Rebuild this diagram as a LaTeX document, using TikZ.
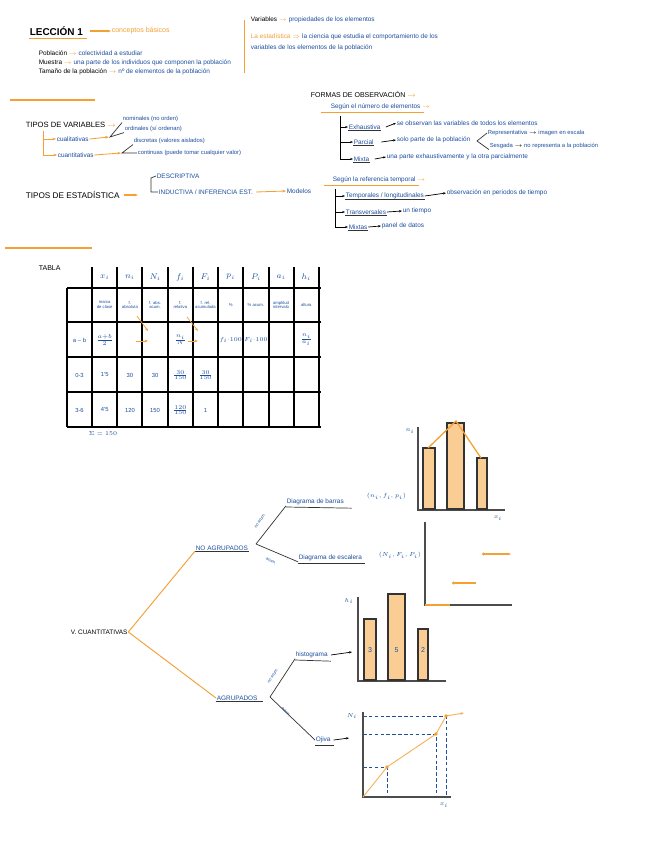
\documentclass[tikz,border=0pt]{standalone}
\usepackage{fontspec}
\setmainfont{Liberation Sans}
\usetikzlibrary{arrows.meta,positioning,calc}
\definecolor{ink}{HTML}{1D4F9E}
\definecolor{marker}{HTML}{F5A033}
\definecolor{barfill}{HTML}{F9CD94}
\newcommand{\oto}{\textcolor{marker}{$\rightarrow$}}
\newcommand{\kto}{\textcolor{black}{$\rightarrow$}}

\begin{document}
\begin{tikzpicture}[
    x=0.03cm, y=-0.03cm,
    txt/.style={anchor=west, inner sep=0.5pt, text=ink, font=\fontsize{5.5}{6}\selectfont},
    otxt/.style={txt, text=marker},
    head/.style={anchor=west, inner sep=0.5pt, text=black, font=\fontsize{6}{7}\selectfont},
    cell/.style={inner sep=0pt, text=ink, align=center, font=\fontsize{3.6}{4}\selectfont},
    tick/.style={inner sep=0.5pt, text=ink, font=\fontsize{4.5}{5}\selectfont},
    oarrow/.style={-{Stealth[length=3pt]}, marker, line width=0.9pt},
    karrow/.style={-{Stealth[length=2.5pt]}, black, semithick},
    kline/.style={black!80, semithick},
    oline/.style={marker, line width=0.8pt},
    tline/.style={black, line width=1.1pt},
    axis/.style={black!70, line width=1pt},
    bar/.style={draw=black!80, fill=barfill, line width=0.9pt},
    guide/.style={ink, densely dashed, semithick}
  ]
    \path[use as bounding box, fill=white] (0,0) rectangle (656,848);

    % cabecera
    \node[head, font=\bfseries\fontsize{8.5}{9}\selectfont] (leccion) at (29,31) {LECCIÓN 1};
    \node[otxt, font=\fontsize{6}{7}\selectfont] (basicos) at (111,31) {conceptos básicos};
    \draw[oarrow, line width=1.3pt] ([xshift=5pt]leccion.east) -- (basicos.west);
    \draw[oline, line width=1.4pt] ([yshift=-2pt]leccion.south west) -- ([xshift=3pt, yshift=-2pt]leccion.south east);

    \node[txt] (pobla) at (38,53) {\textcolor{black}{Población} \oto\ colectividad a estudiar};
    \node[txt] (muest) at (38,63) {\textcolor{black}{Muestra} \oto\ una parte de los individuos que componen la población};
    \node[txt] (taman) at (38,72) {\textcolor{black}{Tamaño de la población} \oto\ nº de elementos de la población};

    \draw[oline] (244,20) -- (244,73);
    \node[txt] (varia) at (250,20) {\textcolor{black}{Variables} \oto\ propiedades de los elementos};
    \node[txt] (estad) at (250,37) {\textcolor{marker}{La estadística $\Rightarrow$} la ciencia que estudia el comportamiento de los};
    \node[txt] (estad2) at (250,48) {variables de los elementos de la población};

    \draw[oline, line width=1.2pt] (10,100) -- (95,100);
    \draw[oline, line width=1.2pt] (5,248) -- (92,248);

    % tipos de variables
    \node[head, font=\fontsize{6.5}{7}\selectfont] (tvar) at (25,125) {TIPOS DE VARIABLES \oto};
    \node[txt] (cuali) at (56,139) {cualitativas};
    \node[txt] (cuanti) at (57,155) {cuantitativas};
    \coordinate (tvarfoot) at (43,131);
    \draw[oarrow, line width=0.7pt] (tvarfoot) |- (cuali.west);
    \draw[oarrow, line width=0.7pt] (tvarfoot) |- (cuanti.west);

    \node[txt, font=\fontsize{5}{6}\selectfont] (nomin) at (122,119) {nominales (no orden)};
    \node[txt, font=\fontsize{5}{6}\selectfont] (ordin) at (124,129) {ordinales (sí ordenan)};
    \node[txt, font=\fontsize{5}{6}\selectfont] (discr) at (133,141) {discretas (valores aislados)};
    \node[txt, font=\fontsize{5}{6}\selectfont] (conti) at (137,153) {continuas (puede tomar cualquier valor)};
    \coordinate (fk1) at (110,137);
    \coordinate (fk2) at (122,153);
    \draw[oarrow, line width=0.7pt] (cuali.east) -- ([xshift=-1pt]fk1);
    \draw[oarrow, line width=0.7pt] (cuanti.east) -- ([xshift=-1pt]fk2);
    \draw[kline] (nomin.south west) -- (fk1) -- (ordin.south west);
    \draw[kline] (discr.south west) -- (fk2) -- (conti.west);

    % tipos de estadistica
    \node[head, font=\fontsize{7}{8}\selectfont] (test) at (25,195) {TIPOS DE ESTADÍSTICA};
    \node[txt, font=\fontsize{5.5}{6}\selectfont] (descr) at (156,176) {DESCRIPTIVA};
    \node[txt, font=\fontsize{5.5}{6}\selectfont] (induc) at (158,192) {INDUCTIVA / INFERENCIA EST.};
    \node[txt] (model) at (286,191) {Modelos};
    \draw[oarrow] ([xshift=3pt]test.east) -- ++(14,0);
    \draw[kline] (descr.west) -- ++(-5,2) |- (induc.west);
    \draw[oarrow, line width=0.7pt] ([xshift=2pt]induc.east) -- (model.west);

    % formas de observacion
    \node[head] (formas) at (310,94) {FORMAS DE OBSERVACIÓN \oto};
    \node[txt] (segnum) at (330,107) {Según el número de elementos \oto};
    \draw[oline] ([xshift=-8pt, yshift=-1pt]segnum.south west) -- ([xshift=-6pt, yshift=-1pt]segnum.south east);
    \coordinate (obstop) at (340,116);
    \node[txt] (exhau) at (348,127) {Exhaustiva};
    \node[txt] (exhaud) at (396,123) {se observan las variables de todos los elementos};
    \node[txt] (parci) at (353,142) {Parcial};
    \node[txt] (parcid) at (396,140) {solo parte de la población};
    \node[txt, font=\fontsize{5}{6}\selectfont] (repre) at (487,133) {Representativa \kto\ imagen en escala};
    \node[txt, font=\fontsize{5}{6}\selectfont] (sesga) at (489,146) {Sesgada \kto\ no representa a la población};
    \node[txt] (mixta) at (353,159) {Mixta};
    \node[txt] (mixtad) at (386,157) {una parte exhaustivamente y la otra parcialmente};
    \draw[karrow] (obstop) |- (exhau.west);
    \draw[karrow] (obstop) |- (parci.west);
    \draw[karrow] (obstop) |- (mixta.west);
    \draw[kline] (exhau.south west) -- (exhau.south east);
    \draw[kline] (parci.south west) -- (parci.south east);
    \draw[kline] (mixta.south west) -- (mixta.south east);
    \draw[karrow] ([xshift=4pt]exhau.east) -- (exhaud.west);
    \draw[karrow] ([xshift=6pt]parci.east) -- (parcid.west);
    \draw[karrow] ([xshift=4pt]mixta.east) -- (mixtad.west);
    \coordinate (fk5) at (477,141);
    \draw[kline] (repre.west) -- (fk5) -- (sesga.south west);

    \node[txt] (segtem) at (332,180) {Según la referencia temporal \oto};
    \draw[oline] ([xshift=-7pt, yshift=-1pt]segtem.south west) -- ([xshift=-6pt, yshift=-1pt]segtem.south east);
    \coordinate (temtop) at (335,189);
    \node[txt] (tempo) at (345,196) {Temporales / longitudinales};
    \node[txt] (tempod) at (446,193) {observación en periodos de tiempo};
    \node[txt] (trans) at (345,212) {Transversales};
    \node[txt] (transd) at (402,211) {un tiempo};
    \node[txt] (mixts) at (348,227) {Mixtas};
    \node[txt] (mixtsd) at (381,226) {panel de datos};
    \draw[karrow] (temtop) |- (tempo.west);
    \draw[karrow] (temtop) |- (trans.west);
    \draw[karrow] (temtop) |- (mixts.west);
    \draw[kline] (tempo.south west) -- (tempo.south east);
    \draw[kline] (trans.south west) -- (trans.south east);
    \draw[kline] (mixts.south west) -- (mixts.south east);
    \draw[karrow] (tempo.east) -- (tempod.west);
    \draw[karrow] (trans.east) -- (transd.west);
    \draw[karrow] (mixts.east) -- (mixtsd.west);

    % tabla
    \node[head] (tabla) at (38,268) {TABLA};
    \foreach \x in {92,117,142,168,193,218,243,269,294,319}
      \draw[tline] (\x,267) -- (\x,427);
    \draw[tline] (67,288) -- (67,427);
    \foreach \y in {288,322,357,392,427}
      \draw[tline] (67,\y) -- (321,\y);
    \foreach \lab [count=\i] in {x_i,n_i,N_i,f_i,F_i,p_i,P_i,a_i,h_i}
      \node[cell, font=\fontsize{7}{8}\selectfont] (h\i) at ({79.5+25.2*\i},277) {$\lab$};
    \foreach \lab [count=\i] in {{marca\\de clase},{f.\\absoluta},{f. abs.\\acum.},{f.\\relativa},{f. rel.\\acumulada},{\%},{\% acum.},{amplitud\\intervalo},{altura}}
      \node[cell] (d\i) at ({79.5+25.2*\i},305) {\lab};
    \foreach \lab [count=\i] in {{$\frac{a+b}{2}$},{},{},{$\frac{n_i}{N}$},{},{$f_i{\cdot}100$},{$F_i{\cdot}100$},{},{$\frac{n_i}{a_i}$}}
      \node[cell, font=\fontsize{4.5}{5}\selectfont] (e\i) at ({79.5+25.2*\i},340) {\lab};
    \foreach \lab [count=\i] in {{1'5},{30},{30},{$\frac{30}{150}$},{$\frac{30}{150}$}}
      \node[cell, font=\fontsize{5}{6}\selectfont] (f\i) at ({79.5+25.2*\i},375) {\lab};
    \foreach \lab [count=\i] in {{4'5},{120},{150},{$\frac{120}{150}$},{1}}
      \node[cell, font=\fontsize{5}{6}\selectfont] (g\i) at ({79.5+25.2*\i},410) {\lab};
    \node[cell, font=\fontsize{5}{6}\selectfont] (e0) at (79.5,340) {a -- b};
    \node[cell, font=\fontsize{5}{6}\selectfont] (f0) at (79.5,375) {0-3};
    \node[cell, font=\fontsize{5}{6}\selectfont] (g0) at (79.5,410) {3-6};
    \node[cell, font=\fontsize{4.5}{5}\selectfont] (suma) at (103,434) {$\Sigma=150$};
    \draw[oarrow, line width=0.6pt] (137,316) -- (148,331);
    \draw[oarrow, line width=0.6pt] (136,341) -- (148,341);
    \draw[oarrow, line width=0.6pt] (187,317) -- (198,331);
    \draw[oarrow, line width=0.6pt] (188,341) -- (198,341);

    % arbol de graficos
    \node[head, font=\fontsize{5.5}{6}\selectfont] (vcuant) at (70,632) {V. CUANTITATIVAS};
    \node[txt] (noagr) at (195,548) {NO AGRUPADOS};
    \node[txt] (agr) at (216,698) {AGRUPADOS};
    \draw[kline] (noagr.south west) -- (noagr.south east);
    \draw[kline] (agr.south west) -- ([xshift=4pt]agr.south east);
    \draw[oline] (vcuant.east) -- (noagr.south west);
    \draw[oline] (vcuant.east) -- (agr.west);

    \node[txt] (barras) at (286,502) {Diagrama de barras};
    \node[txt] (barrasv) at (366,496) {$(n_i, f_i, p_i)$};
    \node[txt] (escal) at (298,558) {Diagrama de escalera};
    \node[txt] (escalv) at (378,555) {$(N_i, F_i, P_i)$};
    \draw[kline] ([yshift=-1pt]barras.south west) -- ([xshift=6pt, yshift=-2pt]barras.south east);
    \draw[kline] ([yshift=-1pt]escal.south west) -- ([xshift=2pt, yshift=-1pt]escal.south east);
    \coordinate (fk3) at (256,544);
    \draw[kline] (fk3) -- (barras.south west);
    \draw[kline] (fk3) -- (escal.south west);
    \node[tick, rotate=57, font=\fontsize{3.5}{4}\selectfont] (noacum1) at (260,521) {no acum.};
    \node[tick, rotate=-28, font=\fontsize{3.5}{4}\selectfont] (acum1) at (271,561) {acum.};

    \node[txt] (histo) at (295,655) {histograma};
    \node[txt] (ojiva) at (315,740) {Ojiva};
    \coordinate (histoarr) at (352,652);
    \coordinate (ojivarr) at (349,738);
    \draw[kline] ([yshift=-1pt]histo.south west) -- ([xshift=2pt, yshift=-2pt]histo.south east);
    \draw[kline] ([yshift=-1pt]ojiva.south west) -- ([xshift=2pt, yshift=-1pt]ojiva.south east);
    \draw[karrow] ([xshift=2pt]histo.east) -- (histoarr);
    \draw[karrow] ([xshift=2pt]ojiva.east) -- (ojivarr);
    \coordinate (fk4) at (270,697);
    \draw[kline] (fk4) -- (histo.south west);
    \draw[kline] (fk4) -- (ojiva.west);
    \node[tick, rotate=58, font=\fontsize{3.5}{4}\selectfont] (noacum2) at (273,676) {no acum.};
    \node[tick, rotate=-48, font=\fontsize{3.5}{4}\selectfont] (acum2) at (286,712) {acum.};

    % diagrama de barras
    \draw[axis] (418,427) -- (418,510) -- (505,510);
    \foreach \l/\r/\t in {423/435/448, 447/464/423, 477/487/458}
      \draw[bar] (\l,509) rectangle (\r,\t);
    \draw[marker, line width=1.1pt] (428,448) -- (456,421) -- (481,458);
    \node[tick] (barni) at (410,431) {$n_i$};
    \node[tick] (barxi) at (498,518) {$x_i$};

    % diagrama de escalera
    \draw[axis] (425,522) -- (425,605) -- (512,605);
    \draw[marker, line width=0.9pt] (425,605) -- (450,605);
    \draw[marker, line width=0.9pt, {Circle[length=2.5pt, open]}-] (452,583) -- (476,583);
    \draw[marker, line width=0.9pt, {Circle[length=2.5pt, open]}-{Stealth[length=3pt]}] (482,554) -- (511,554);

    % histograma
    \draw[axis] (358,597) -- (358,681) -- (446,681);
    \foreach \l/\r/\t/\v in {364/376/619/3, 388/405/594/5, 418/428/629/2} {
      \draw[bar] (\l,680) rectangle (\r,\t);
      \node[tick, font=\fontsize{6}{7}\selectfont] at ({(\l+\r)/2},650) {\v};
    }
    \node[tick, font=\fontsize{5}{6}\selectfont] (histhi) at (349,601) {$h_i$};

    % ojiva
    \draw[guide] (363,767) -| (387,797);
    \draw[guide] (363,734) -| (436,797);
    \draw[guide] (363,716) -| (446,797);
    \draw[axis] (363,712) -- (363,797) -- (451,797);
    \draw[marker!80, line width=0.8pt, -{Stealth[length=3pt]}] (363,797) -- (387,767) -- (436,734) -- (446,716) -- (464,713);
    \foreach \p in {(387,767),(436,734),(446,716)}
      \fill[marker] \p circle (1.6pt);
    \node[tick, font=\fontsize{5}{6}\selectfont] (ojni) at (352,716) {$N_i$};
    \node[tick] (ojxi) at (444,805) {$x_i$};
\end{tikzpicture}
\end{document}
